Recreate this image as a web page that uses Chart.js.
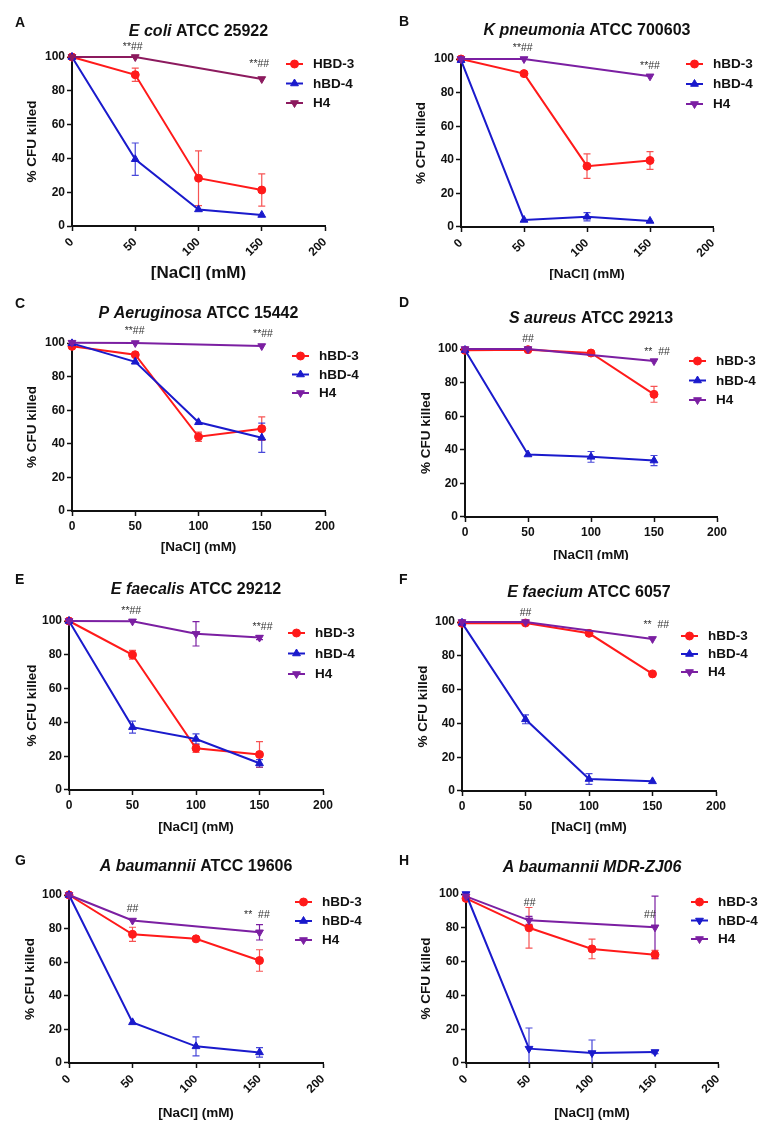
<!DOCTYPE html>
<html>
<head>
<meta charset="utf-8">
<script src="https://cdn.jsdelivr.net/npm/chart.js@4.4.1/dist/chart.umd.min.js"></script>
<style>
    html, body { margin: 0; padding: 0; background: #ffffff; }
    #figura { position: relative; width: 767px; height: 1127px; overflow: hidden; }
    #figura canvas { position: absolute; }
</style>
</head>
<body>
<div id="figura"></div>
<script>
/* Valores comuns a todos os painéis */
const concentracoes = [0, 50, 100, 150];
const ticksX = [0, 50, 100, 150, 200];
const ticksY = [0, 20, 40, 60, 80, 100];

// A - E coli ATCC 25922
const ecoliHbd3 = [100, 89.5, 28.3, 21.3];
const ecoliHbd3Sd = [0, 3.9, 16.2, 9.5];
const ecoliHbd4 = [100, 39.5, 9.8, 6.5];
const ecoliHbd4Sd = [0, 9.6, 0, 0];
const ecoliH4X = [0, 50, 150];
const ecoliH4 = [100, 100, 87];
const ecoliH4Sd = [0, 0, 0];
const ecoliMarcas = ["**##", "**##"];
const ecoliMarcasX = [48, 148];
const ecoliMarcasY = [105.7, 95.5];

// B - K pneumonia ATCC 700603
const kpnHbd3 = [100, 91.3, 36.2, 39.6];
const kpnHbd3Sd = [0, 0, 7.3, 5.3];
const kpnHbd4 = [99.3, 4.2, 6.1, 3.6];
const kpnHbd4Sd = [0, 0, 2.4, 0];
const kpnH4X = [0, 50, 150];
const kpnH4 = [100, 100, 89.7];
const kpnH4Sd = [0, 0, 0];
const kpnMarcas = ["**##", "**##"];
const kpnMarcasX = [49, 150];
const kpnMarcasY = [106.7, 96];

// C - P Aeruginosa ATCC 15442
const paeHbd3 = [98, 93, 44.2, 49];
const paeHbd3Sd = [0, 0, 2.7, 7];
const paeHbd4 = [99.8, 88.8, 52.8, 43.6];
const paeHbd4Sd = [0, 0, 0, 8.7];
const paeH4X = [0, 50, 150];
const paeH4 = [100.2, 100, 98.2];
const paeH4Sd = [1, 0, 0];
const paeMarcas = ["**##", "**##"];
const paeMarcasX = [49.5, 151];
const paeMarcasY = [107, 105];

// D - S aureus ATCC 29213
const sauHbd3 = [99.2, 99.6, 97.6, 73];
const sauHbd3Sd = [0, 0, 0, 4.7];
const sauHbd4 = [99.4, 37.2, 35.8, 33.6];
const sauHbd4Sd = [0, 0, 3.2, 3];
const sauH4X = [0, 50, 150];
const sauH4 = [100, 100, 92.8];
const sauH4Sd = [0.6, 0.6, 0];
const sauMarcas = ["##", "**  ##"];
const sauMarcasX = [50, 152.4];
const sauMarcasY = [105.7, 98.4];

// E - E faecalis ATCC 29212
const efsHbd3 = [100, 80, 24.7, 21];
const efsHbd3Sd = [0, 2.6, 2.4, 7.6];
const efsHbd4 = [100, 37.2, 30.2, 15.8];
const efsHbd4Sd = [0, 3.5, 3, 2.2];
const efsH4X = [0, 50, 100, 150];
const efsH4 = [100, 99.8, 92.4, 90.2];
const efsH4Sd = [0, 0, 7.2, 1.2];
const efsMarcas = ["**##", "**##"];
const efsMarcasX = [49, 152.4];
const efsMarcasY = [106.1, 96.6];

// F - E faecium ATCC 6057
const efmHbd3 = [99.2, 99.4, 93.3, 69.3];
const efmHbd3Sd = [0, 0, 0, 0];
const efmHbd4 = [99.5, 42.4, 7.1, 5.7];
const efmHbd4Sd = [0, 2.6, 3.2, 0];
const efmH4X = [0, 50, 150];
const efmH4 = [100, 100, 90];
const efmH4Sd = [0, 0, 0];
const efmMarcas = ["##", "**  ##"];
const efmMarcasX = [50, 153];
const efmMarcasY = [105, 98.4];

// G - A baumannii ATCC 19606
const abHbd3 = [100, 76.6, 73.9, 61];
const abHbd3Sd = [0, 4.2, 0, 6.4];
const abHbd4 = [100, 24.2, 9.9, 6.3];
const abHbd4Sd = [0, 0, 5.6, 2.8];
const abH4X = [0, 50, 150];
const abH4 = [100, 84.8, 77.8];
const abH4Sd = [0, 0, 4.6];
const abMarcas = ["##", "**  ##"];
const abMarcasX = [50, 148];
const abMarcasY = [91.7, 88.1];

// H - A baumannii MDR-ZJ06
const mdrHbd3 = [97.4, 80, 67.5, 64.1];
const mdrHbd3Sd = [0, 12, 5.8, 2.5];
const mdrHbd4 = [100, 8.5, 5.9, 6.5];
const mdrHbd4Sd = [0, 12.2, 7.7, 1];
const mdrH4X = [0, 50, 150];
const mdrH4 = [98.6, 84.4, 80.3];
const mdrH4Sd = [0, 2.4, 18.4];
const mdrMarcas = ["##", "##"];
const mdrMarcasX = [50.5, 146];
const mdrMarcasY = [94.7, 87.8];

const FONTE = "Liberation Sans";
const ROXO = "#7b1fa2";

/* Configuração de cada painel (layout em pixels relativos ao painel) */
const paineis = [
    { letra: "A", italico: "E coli", normal: " ATCC 25922", nomes: ["HBD-3", "hBD-4", "H4"], corH4: "#8c1a5e", hbd4Baixo: false,
      hbd3: ecoliHbd3, hbd3Sd: ecoliHbd3Sd, hbd4: ecoliHbd4, hbd4Sd: ecoliHbd4Sd, h4X: ecoliH4X, h4: ecoliH4, h4Sd: ecoliH4Sd,
      marcas: ecoliMarcas, marcasX: ecoliMarcasX, marcasY: ecoliMarcasY, rotacao: 45, tamXTitulo: 17,
      caixa: { esq: 72, topo: 57, base: 226, dir: 325, tituloY: 32, letraY: 23, yTitulo: 32, xTitulo: 273, legX: 286, legY: 64, legPasso: 19.5 } },
    { letra: "B", italico: "K pneumonia", normal: " ATCC 700603", nomes: ["hBD-3", "hBD-4", "H4"], corH4: ROXO, hbd4Baixo: false,
      hbd3: kpnHbd3, hbd3Sd: kpnHbd3Sd, hbd4: kpnHbd4, hbd4Sd: kpnHbd4Sd, h4X: kpnH4X, h4: kpnH4, h4Sd: kpnH4Sd,
      marcas: kpnMarcas, marcasX: kpnMarcasX, marcasY: kpnMarcasY, rotacao: 45, tamXTitulo: 13.5,
      caixa: { esq: 77, topo: 59, base: 227, dir: 329, tituloY: 31, letraY: 22, yTitulo: 37, xTitulo: 274, legX: 302, legY: 64, legPasso: 20 } },
    { letra: "C", italico: "P Aeruginosa", normal: " ATCC 15442", nomes: ["hBD-3", "hBD-4", "H4"], corH4: ROXO, hbd4Baixo: false,
      hbd3: paeHbd3, hbd3Sd: paeHbd3Sd, hbd4: paeHbd4, hbd4Sd: paeHbd4Sd, h4X: paeH4X, h4: paeH4, h4Sd: paeH4Sd,
      marcas: paeMarcas, marcasX: paeMarcasX, marcasY: paeMarcasY, rotacao: 0, tamXTitulo: 13.5,
      caixa: { esq: 72, topo: 63, base: 231, dir: 325, tituloY: 34, letraY: 24, yTitulo: 32, xTitulo: 267, legX: 292, legY: 76, legPasso: 18.5 } },
    { letra: "D", italico: "S aureus", normal: " ATCC 29213", nomes: ["hBD-3", "hBD-4", "H4"], corH4: ROXO, hbd4Baixo: false,
      hbd3: sauHbd3, hbd3Sd: sauHbd3Sd, hbd4: sauHbd4, hbd4Sd: sauHbd4Sd, h4X: sauH4X, h4: sauH4, h4Sd: sauH4Sd,
      marcas: sauMarcas, marcasX: sauMarcasX, marcasY: sauMarcasY, rotacao: 0, tamXTitulo: 13.5,
      caixa: { esq: 81, topo: 69, base: 237, dir: 333, tituloY: 39, letraY: 23, yTitulo: 42, xTitulo: 275, legX: 305, legY: 81, legPasso: 19.5 } },
    { letra: "E", italico: "E faecalis", normal: " ATCC 29212", nomes: ["hBD-3", "hBD-4", "H4"], corH4: ROXO, hbd4Baixo: false,
      hbd3: efsHbd3, hbd3Sd: efsHbd3Sd, hbd4: efsHbd4, hbd4Sd: efsHbd4Sd, h4X: efsH4X, h4: efsH4, h4Sd: efsH4Sd,
      marcas: efsMarcas, marcasX: efsMarcasX, marcasY: efsMarcasY, rotacao: 0, tamXTitulo: 13.5,
      caixa: { esq: 69, topo: 61, base: 230, dir: 323, tituloY: 30, letraY: 20, yTitulo: 32, xTitulo: 267, legX: 288, legY: 73, legPasso: 20.5 } },
    { letra: "F", italico: "E faecium", normal: " ATCC 6057", nomes: ["hBD-3", "hBD-4", "H4"], corH4: ROXO, hbd4Baixo: false,
      hbd3: efmHbd3, hbd3Sd: efmHbd3Sd, hbd4: efmHbd4, hbd4Sd: efmHbd4Sd, h4X: efmH4X, h4: efmH4, h4Sd: efmH4Sd,
      marcas: efmMarcas, marcasX: efmMarcasX, marcasY: efmMarcasY, rotacao: 0, tamXTitulo: 13.5,
      caixa: { esq: 78, topo: 62, base: 231, dir: 332, tituloY: 33, letraY: 20, yTitulo: 39, xTitulo: 267, legX: 297, legY: 76, legPasso: 18 } },
    { letra: "G", italico: "A baumannii", normal: " ATCC 19606", nomes: ["hBD-3", "hBD-4", "H4"], corH4: ROXO, hbd4Baixo: false,
      hbd3: abHbd3, hbd3Sd: abHbd3Sd, hbd4: abHbd4, hbd4Sd: abHbd4Sd, h4X: abH4X, h4: abH4, h4Sd: abH4Sd,
      marcas: abMarcas, marcasX: abMarcasX, marcasY: abMarcasY, rotacao: 45, tamXTitulo: 13.5,
      caixa: { esq: 69, topo: 55, base: 223, dir: 323, tituloY: 27, letraY: 21, yTitulo: 30, xTitulo: 273, legX: 295, legY: 62, legPasso: 19 } },
    { letra: "H", italico: "A baumannii MDR-ZJ06", normal: "", nomes: ["hBD-3", "hBD-4", "H4"], corH4: ROXO, hbd4Baixo: true,
      hbd3: mdrHbd3, hbd3Sd: mdrHbd3Sd, hbd4: mdrHbd4, hbd4Sd: mdrHbd4Sd, h4X: mdrH4X, h4: mdrH4, h4Sd: mdrH4Sd,
      marcas: mdrMarcas, marcasX: mdrMarcasX, marcasY: mdrMarcasY, rotacao: 45, tamXTitulo: 13.5,
      caixa: { esq: 82, topo: 54, base: 223, dir: 334, tituloY: 28, letraY: 21, yTitulo: 42, xTitulo: 273, legX: 307, legY: 62, legPasso: 18.5 } },
];

/* Plugin que desenha barras de erro, título, letra, legenda e marcas de significância */
const decoracao = {
    id: "decoracao",
    beforeDatasetsDraw(chart) {
        const ctx = chart.ctx;
        const a = chart.chartArea;
        const sx = chart.scales.x;
        const sy = chart.scales.y;
        ctx.save();
        // Recorta abaixo do eixo X
        ctx.beginPath();
        ctx.rect(a.left - 10, a.top - 15, a.right - a.left + 20, a.bottom - a.top + 15);
        ctx.clip();
        chart.data.datasets.forEach((ds) => {
            ctx.strokeStyle = ds.corErro;
            ctx.lineWidth = 1.2;
            ds.data.forEach((pt, j) => {
                const sd = ds.sd[j];
                if (!sd) return;
                const x = sx.getPixelForValue(pt.x);
                const y1 = sy.getPixelForValue(pt.y + sd);
                const y2 = sy.getPixelForValue(pt.y - sd);
                ctx.beginPath();
                ctx.moveTo(x, y1); ctx.lineTo(x, y2);
                ctx.moveTo(x - 3.5, y1); ctx.lineTo(x + 3.5, y1);
                ctx.moveTo(x - 3.5, y2); ctx.lineTo(x + 3.5, y2);
                ctx.stroke();
            });
        });
        ctx.restore();
    },
    afterDraw(chart, args, opts) {
        const ctx = chart.ctx;
        const a = chart.chartArea;
        const c = opts.caixa;
        ctx.save();

        // Título com parte em itálico
        ctx.textBaseline = "middle";
        ctx.textAlign = "left";
        ctx.fillStyle = "#111";
        ctx.font = `italic bold 16px "${FONTE}"`;
        const w1 = ctx.measureText(opts.italico).width;
        ctx.font = `bold 16px "${FONTE}"`;
        const w2 = ctx.measureText(opts.normal).width;
        const x0 = (a.left + a.right) / 2 - (w1 + w2) / 2;
        ctx.font = `italic bold 16px "${FONTE}"`;
        ctx.fillText(opts.italico, x0, c.tituloY);
        ctx.font = `bold 16px "${FONTE}"`;
        ctx.fillText(opts.normal, x0 + w1, c.tituloY);

        // Letra do painel
        ctx.font = `bold 14px "${FONTE}"`;
        ctx.fillText(opts.letra, 15, c.letraY);

        // Legenda
        chart.data.datasets.forEach((ds, k) => {
            const y = c.legY + k * c.legPasso;
            ctx.strokeStyle = ds.borderColor;
            ctx.lineWidth = 2;
            ctx.beginPath();
            ctx.moveTo(c.legX, y);
            ctx.lineTo(c.legX + 17, y);
            ctx.stroke();
            ctx.fillStyle = ds.backgroundColor;
            ctx.lineWidth = 1;
            Chart.helpers.drawPoint(ctx, {
                pointStyle: ds.pointStyle,
                rotation: ds.pointRotation || 0,
                radius: ds.pointRadius,
                borderWidth: 1,
            }, c.legX + 8.5, y);
            ctx.fillStyle = "#111";
            ctx.font = `bold 13.5px "${FONTE}"`;
            ctx.fillText(ds.label, c.legX + 27, y + 0.5);
        });

        // Marcas de significância (** e ##)
        ctx.font = `10.5px "${FONTE}"`;
        ctx.fillStyle = "#333";
        ctx.textAlign = "center";
        opts.marcas.forEach((txt, k) => {
            const x = chart.scales.x.getPixelForValue(opts.marcasX[k]);
            const y = chart.scales.y.getPixelForValue(opts.marcasY[k]);
            ctx.fillText(txt, x, y);
        });
        ctx.restore();
    },
};

/* Monta os pontos {x, y} a partir dos arrays */
function pontos(xs, ys) {
    return ys.map((y, i) => ({ x: xs[i], y: y }));
}

/* Cria um painel */
function criarPainel(p, i) {
    const col = i % 2;
    const lin = Math.floor(i / 2);
    const w = col ? 383 : 384;
    const h = lin === 3 ? 287 : 280;

    const canvas = document.createElement("canvas");
    canvas.width = w;
    canvas.height = h;
    canvas.style.left = col * 384 + "px";
    canvas.style.top = lin * 280 + "px";
    canvas.style.width = w + "px";
    canvas.style.height = h + "px";
    document.getElementById("figura").appendChild(canvas);

    const c = p.caixa;
    // Ajusta padding e tamanho dos eixos para posicionar a área do gráfico
    const lhY = 13.5 * 1.2;
    const padEsq = c.yTitulo - lhY / 2;
    const larguraY = c.esq - padEsq;
    const lhX = p.tamXTitulo * 1.2;
    const padBase = h - c.xTitulo - lhX / 2;
    const alturaX = h - padBase - c.base;

    const vermelho = "#ff1a1a";
    const azul = "#1a1acc";

    const fonteTick = { family: FONTE, size: 12, weight: "bold" };
    const grade = { display: true, drawOnChartArea: false, drawTicks: true, tickLength: 5, tickColor: "#111", tickWidth: 1.5 };
    const borda = { display: true, color: "#111", width: 2 };

    new Chart(canvas, {
        type: "line",
        data: {
            datasets: [
                {
                    label: p.nomes[0],
                    data: pontos(concentracoes, p.hbd3),
                    sd: p.hbd3Sd,
                    corErro: "rgba(245,40,40,0.8)",
                    borderColor: vermelho,
                    backgroundColor: vermelho,
                    borderWidth: 2,
                    pointStyle: "circle",
                    pointRadius: 4,
                    pointBorderWidth: 1,
                    clip: false,
                    order: 3,
                },
                {
                    label: p.nomes[1],
                    data: pontos(concentracoes, p.hbd4),
                    sd: p.hbd4Sd,
                    corErro: "rgba(40,40,210,0.85)",
                    borderColor: azul,
                    backgroundColor: azul,
                    borderWidth: 2,
                    pointStyle: "triangle",
                    pointRotation: p.hbd4Baixo ? 180 : 0,
                    pointRadius: 4.5,
                    pointBorderWidth: 1,
                    clip: false,
                    order: 2,
                },
                {
                    label: p.nomes[2],
                    data: pontos(p.h4X, p.h4),
                    sd: p.h4Sd,
                    corErro: p.corH4,
                    borderColor: p.corH4,
                    backgroundColor: p.corH4,
                    borderWidth: 2,
                    pointStyle: "triangle",
                    pointRotation: 180,
                    pointRadius: 4.5,
                    pointBorderWidth: 1,
                    clip: false,
                    order: 1,
                },
            ],
        },
        options: {
            responsive: false,
            animation: false,
            devicePixelRatio: 1,
            layout: { padding: { left: padEsq, right: w - c.dir, top: c.topo, bottom: padBase } },
            plugins: {
                legend: { display: false },
                tooltip: { enabled: false },
                decoracao: { caixa: c, italico: p.italico, normal: p.normal, letra: p.letra,
                    marcas: p.marcas, marcasX: p.marcasX, marcasY: p.marcasY },
            },
            scales: {
                x: {
                    type: "linear",
                    min: 0,
                    max: 200,
                    afterBuildTicks: (s) => { s.ticks = ticksX.map((v) => ({ value: v })); },
                    afterFit: (s) => { s.height = alturaX; },
                    border: borda,
                    grid: grade,
                    ticks: { color: "#111", font: fonteTick, padding: p.rotacao ? 4 : 3,
                        minRotation: p.rotacao, maxRotation: p.rotacao, autoSkip: false },
                    title: { display: true, text: "[NaCl] (mM)", color: "#111",
                        font: { family: FONTE, size: p.tamXTitulo, weight: "bold" }, padding: 0 },
                },
                y: {
                    type: "linear",
                    min: 0,
                    max: 100,
                    afterBuildTicks: (s) => { s.ticks = ticksY.map((v) => ({ value: v })); },
                    afterFit: (s) => { s.width = larguraY; },
                    border: borda,
                    grid: grade,
                    ticks: { color: "#111", font: fonteTick, padding: 2 },
                    title: { display: true, text: "% CFU killed", color: "#111",
                        font: { family: FONTE, size: 13.5, weight: "bold" }, padding: 0 },
                },
            },
        },
        plugins: [decoracao],
    });
}

Chart.defaults.font.family = FONTE;
paineis.forEach(criarPainel);
</script>
</body>
</html>
